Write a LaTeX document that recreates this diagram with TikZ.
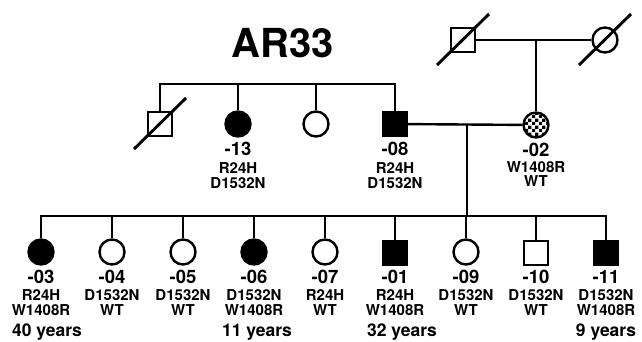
\documentclass[tikz,border=0pt]{standalone}
\usepackage{fontspec}
\setmainfont{TeX Gyre Heros}
\usepackage{tikz}
\usetikzlibrary{patterns}
\pgfdeclarepatternformonly{checker}{\pgfqpoint{0pt}{0pt}}{\pgfqpoint{7pt}{7pt}}{\pgfqpoint{7pt}{7pt}}{%
  \pgfpathrectangle{\pgfqpoint{0pt}{0pt}}{\pgfqpoint{3.5pt}{3.5pt}}%
  \pgfpathrectangle{\pgfqpoint{3.5pt}{3.5pt}}{\pgfqpoint{3.5pt}{3.5pt}}%
  \pgfusepath{fill}}

\begin{document}
\begin{tikzpicture}[x=1pt,y=-1pt,
   line width=2.4pt,
   male/.style={draw,rectangle,minimum size=24pt,inner sep=0pt},
   female/.style={draw,circle,minimum size=25pt,inner sep=0pt},
   aff/.style={fill=black},
   carr/.style={pattern=checker},
   slash/.style={line width=2.9pt},
   idl/.style={font=\fontsize{18.5}{18.5}\selectfont\bfseries,inner sep=0pt,anchor=base},
   gtl/.style={font=\fontsize{15}{15}\selectfont\bfseries,inner sep=0pt,anchor=base,align=center},
   agel/.style={font=\fontsize{17.5}{17.5}\selectfont\bfseries,inner sep=0pt,anchor=base}]
 \useasboundingbox (0,0) rectangle (642,341);
 \node[font=\fontsize{40}{40}\selectfont\bfseries,inner sep=0pt,anchor=base] (title) at (283,57) {AR33};
 % generation I
 \node[male] (i1) at (463,40) {};
 \node[female] (i2) at (605,40) {};
 % generation II
 \node[male] (ii1) at (160,124) {};
 \node[female,aff] (ii2) at (238,124) {};
 \node[female] (ii3) at (316,124) {};
 \node[male,aff] (ii4) at (395,124) {};
 \node[female,carr] (ii5) at (536,125) {};
 \node[idl] (ii2-id) at (238,155) {-13};
 \node[gtl] (ii2-gt) at (238,188) {R24H\\D1532N};
 \node[idl] (ii4-id) at (395,155) {-08};
 \node[gtl] (ii4-gt) at (395,188) {R24H\\D1532N};
 \node[idl] (ii5-id) at (536,156) {-02};
 \node[gtl,font=\fontsize{15}{14}\selectfont\bfseries] (ii5-gt) at (536,186) {W1408R\\WT};
 % generation III
 \node[female,aff] (iii1) at (41,252) {};
 \node[female] (iii2) at (112,252) {};
 \node[female] (iii3) at (183,252) {};
 \node[female,aff] (iii4) at (254,252) {};
 \node[female] (iii5) at (325,252) {};
 \node[male,aff] (iii6) at (395,253) {};
 \node[female] (iii7) at (466,252) {};
 \node[male] (iii8) at (536,253) {};
 \node[male,aff] (iii9) at (606,253) {};
 \node[idl] (iii1-id) at (41,283) {-03};
 \node[gtl] (iii1-gt) at (41,315) {R24H\\W1408R};
 \node[idl] (iii2-id) at (112,283) {-04};
 \node[gtl] (iii2-gt) at (112,315) {D1532N\\WT};
 \node[idl] (iii3-id) at (183,283) {-05};
 \node[gtl] (iii3-gt) at (183,315) {D1532N\\WT};
 \node[idl] (iii4-id) at (254,283) {-06};
 \node[gtl] (iii4-gt) at (254,315) {D1532N\\W1408R};
 \node[idl] (iii5-id) at (325,283) {-07};
 \node[gtl] (iii5-gt) at (325,315) {R24H\\WT};
 \node[idl] (iii6-id) at (395,283) {-01};
 \node[gtl] (iii6-gt) at (395,315) {R24H\\W1408R};
 \node[idl] (iii7-id) at (466,283) {-09};
 \node[gtl] (iii7-gt) at (466,315) {D1532N\\WT};
 \node[idl] (iii8-id) at (536,283) {-10};
 \node[gtl] (iii8-gt) at (536,315) {D1532N\\WT};
 \node[idl] (iii9-id) at (606,283) {-11};
 \node[gtl] (iii9-gt) at (606,315) {D1532N\\W1408R};
 \node[agel] (iii1-age) at (47,336) {40 years};
 \node[agel] (iii4-age) at (257,336) {11 years};
 \node[agel] (iii6-age) at (402,336) {32 years};
 \node[agel] (iii9-age) at (606,336) {9 years};
 % lines of descent
 \coordinate (m1) at (ii5 |- i1);
 \coordinate (s2) at (278,84);
 \coordinate (m2) at (467,124);
 \coordinate (s3) at (467,216);
 \draw (i1) -- (i2);
 \draw (m1) -- (ii5);
 \draw (ii1.north) |- (s2) -| (ii4.north);
 \foreach \n in {ii2,ii3} \draw (\n.north) -- (\n |- s2);
 \draw (ii4) -- (ii5);
 \draw (m2) -- (s3);
 \draw (iii1.north) |- (s3) -| (iii9.north);
 \foreach \n in {iii2,iii3,iii4,iii5,iii6,iii7,iii8} \draw (\n.north) -- (\n |- s3);
 % deceased
 \foreach \n in {i1,i2,ii1} \draw[slash] (\n.center) +(-26,25) -- +(26,-26);
\end{tikzpicture}
\end{document}
